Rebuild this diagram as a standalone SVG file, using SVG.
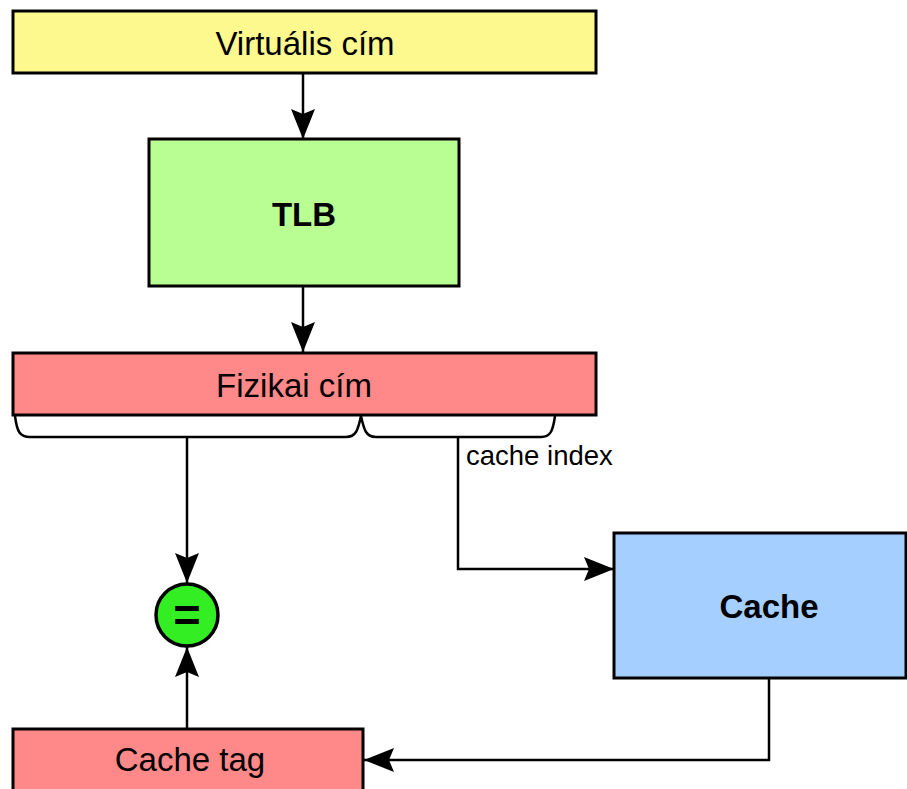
<svg xmlns="http://www.w3.org/2000/svg" width="907" height="789" viewBox="0 0 907 789">
  <style>
    .box { stroke: #000; stroke-width: 3; }
    .lbl { font-family: "Liberation Sans", Arial, sans-serif; font-size: 33px; fill: #000; text-anchor: middle; }
    .bold { font-weight: bold; }
    .wire { fill: none; stroke: #000; stroke-width: 2.5; }
    .brace { fill: none; stroke: #000; stroke-width: 2.5; stroke-linejoin: round; }
  </style>
  <defs>
    <marker id="arrow" markerUnits="userSpaceOnUse" viewBox="-31 -13 32 26" markerWidth="32" markerHeight="26" refX="0" refY="0" orient="auto">
      <path d="M0,0 L-30,-12 L-25,0 L-30,12 Z" fill="#000"/>
    </marker>
  </defs>

  <rect width="907" height="789" fill="#fff"/>

  <g id="virtual-address">
    <rect class="box" x="13" y="11" width="583" height="62" fill="#fdf98e"/>
    <text class="lbl" x="305" y="55">Virtuális cím</text>
  </g>

  <g id="tlb">
    <rect class="box" x="149" y="139" width="310" height="147" fill="#b9fe92"/>
    <text class="lbl bold" x="304" y="226">TLB</text>
  </g>

  <g id="physical-address">
    <rect class="box" x="13" y="353" width="583" height="62" fill="#ff8888"/>
    <text class="lbl" x="294" y="397">Fizikai cím</text>
    <path class="brace" d="M15,416 C17,432 20,437 30,437 L346,437 C356,437 358,430 361,416 C364,430 366,437 376,437 L541,437 C551,437 553,430 555,416"/>
  </g>

  <g id="compare">
    <circle cx="187" cy="615" r="31" fill="#33ee22" stroke="#000" stroke-width="3.5"/>
    <text class="lbl bold" x="187" y="631" style="font-size:47px">=</text>
  </g>

  <g id="cache">
    <rect class="box" x="614" y="533" width="292" height="145" fill="#a5cffe"/>
    <text class="lbl bold" x="769" y="618">Cache</text>
  </g>

  <g id="cache-tag">
    <rect class="box" x="13" y="729" width="350" height="70" fill="#ff8888"/>
    <text class="lbl" x="190" y="771">Cache tag</text>
  </g>

  <g id="connectors">
    <path class="wire" d="M303,73 V139" marker-end="url(#arrow)"/>
    <path class="wire" d="M303,286 V352" marker-end="url(#arrow)"/>
    <path class="wire" d="M187,437 V583" marker-end="url(#arrow)"/>
    <path class="wire" d="M187,728 V647" marker-end="url(#arrow)"/>
    <path class="wire" d="M458,437 V569 H614" marker-end="url(#arrow)"/>
    <path class="wire" d="M769,679 V760 H364" marker-end="url(#arrow)"/>
    <text x="466" y="465" font-family="Liberation Sans, Arial, sans-serif" font-size="27.5">cache index</text>
  </g>
</svg>
